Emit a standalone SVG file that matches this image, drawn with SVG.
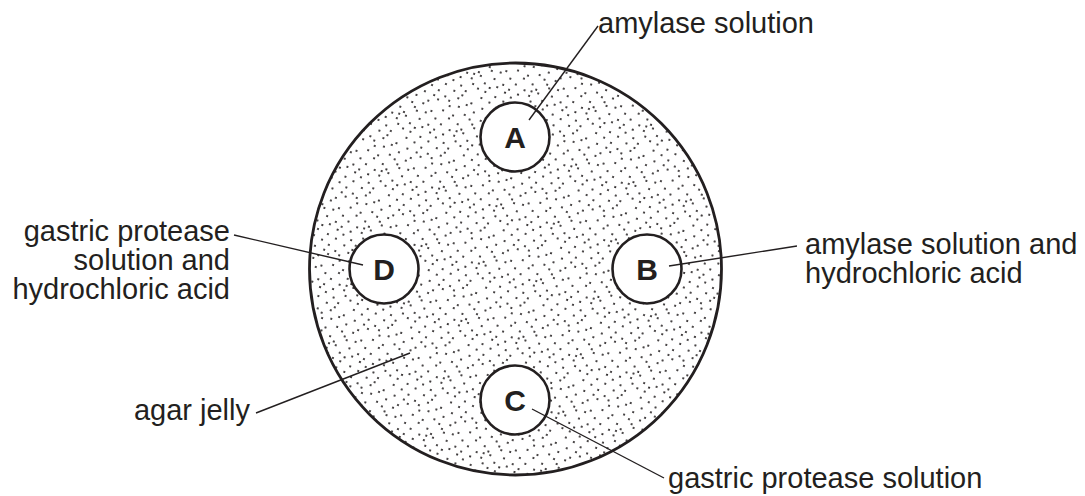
<svg xmlns="http://www.w3.org/2000/svg" width="1085" height="496" viewBox="0 0 1085 496">
<style>
text{font-family:"Liberation Sans",Arial,sans-serif;font-size:29px;fill:#231f20}
.lbl{font-weight:bold;text-anchor:middle;font-size:30px}
.well{fill:#fff;stroke:#231f20;stroke-width:2.6}
.lead{stroke:#231f20;stroke-width:1.4;fill:none}
</style>
<defs>
<pattern id="stip" width="60" height="60" patternUnits="userSpaceOnUse" patternTransform="rotate(17)">
<path fill="none" stroke="#231f20" stroke-width="2.1" stroke-linecap="round" d="M3 5h.1M14 1h.1M22 8h.1M37 4h.1M46 7h.1M57 2h.1M9 13h.1M18 15h.1M31 10h.1M41 14h.1M52 11h.1M1 21h.1M13 23h.1M26 18h.1M34 22h.1M47 20h.1M57 24h.1M6 29h.1M19 31h.1M28 27h.1M41 30h.1M50 28h.1M4 37h.1M15 35h.1M25 40h.1M36 36h.1M47 38h.1M58 34h.1M11 44h.1M20 43h.1M31 46h.1M44 42h.1M54 45h.1M2 52h.1M16 51h.1M26 54h.1M38 50h.1M48 53h.1M59 49h.1M8 58h.1M21 58h.1M33 57h.1M43 59h.1M54 57h.1M11 6h.1M30 1h.1M50 16h.1M23 24h.1M8 41h.1M39 25h.1M55 52h.1"/>
</pattern>
</defs>
<rect width="1085" height="496" fill="#fff"/>
<g id="dish">
<circle cx="515.5" cy="269" r="206" fill="url(#stip)" stroke="#231f20" stroke-width="2.8"/>
</g>
<g id="well-A"><circle class="well" cx="515" cy="137" r="34.5"/><text class="lbl" x="515" y="148">A</text></g>
<g id="well-B"><circle class="well" cx="647" cy="269" r="34.5"/><text class="lbl" x="647" y="280">B</text></g>
<g id="well-C"><circle class="well" cx="515" cy="400" r="34.5"/><text class="lbl" x="515" y="411">C</text></g>
<g id="well-D"><circle class="well" cx="384" cy="269" r="34.5"/><text class="lbl" x="384" y="280">D</text></g>
<g id="connectors">
<line class="lead" x1="529" y1="120" x2="598" y2="26"/>
<line class="lead" x1="669" y1="266" x2="797" y2="246"/>
<line class="lead" x1="532" y1="409" x2="664" y2="478"/>
<line class="lead" x1="363" y1="265" x2="234" y2="235"/>
<line class="lead" x1="410" y1="353" x2="256" y2="413"/>
</g>
<g id="label-A"><text x="598" y="33">amylase solution</text></g>
<g id="label-B"><text x="805" y="254">amylase solution and</text><text x="805" y="283">hydrochloric acid</text></g>
<g id="label-C"><text x="668" y="488">gastric protease solution</text></g>
<g id="label-D" text-anchor="end"><text x="230" y="241">gastric protease</text><text x="230" y="270">solution and</text><text x="230" y="299">hydrochloric acid</text></g>
<g id="label-agar"><text x="250" y="420" text-anchor="end">agar jelly</text></g>
</svg>
